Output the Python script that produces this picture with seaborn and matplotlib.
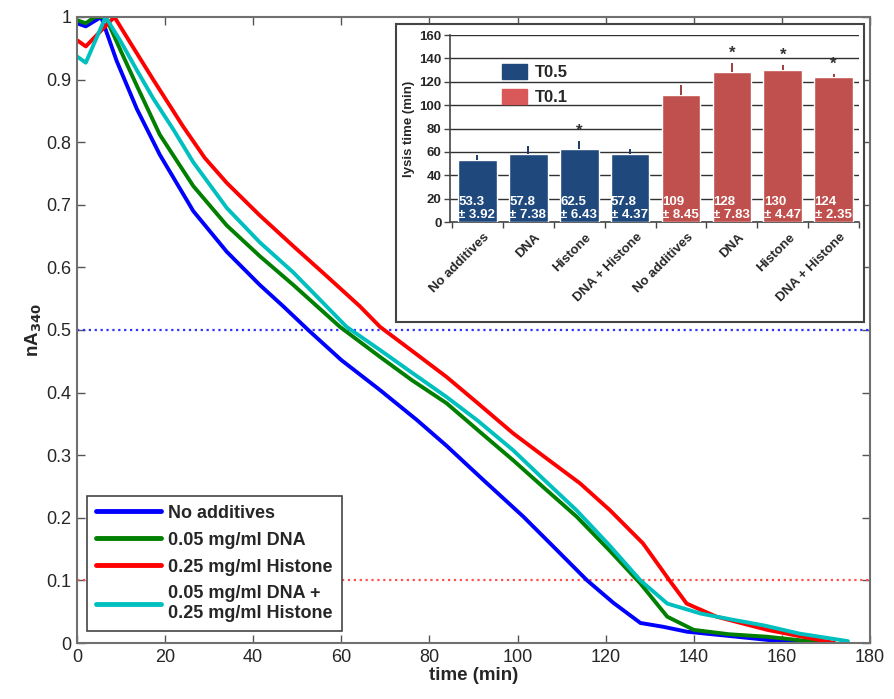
import numpy as np
import pandas as pd
import matplotlib
matplotlib.use('Agg')
import matplotlib.pyplot as plt
import matplotlib.patches as mpatches
from matplotlib.lines import Line2D
import seaborn as sns

# ── Data: turbidity curves (normalised A340 vs time) ─────────
blue_t = [0, 2, 5.5, 9, 13.6, 18.8, 26.4, 34, 41.5, 46.8, 52.5, 60, 68.8, 77.2,
          83.9, 92, 101.3, 108, 115.8, 121.8, 127.9, 133, 138.5, 147, 156.7, 165]
blue_y = [0.99, 0.985, 1.0, 0.93, 0.853, 0.78, 0.69, 0.625, 0.572, 0.538, 0.5,
          0.452, 0.404, 0.356, 0.315, 0.262, 0.202, 0.155, 0.10, 0.064, 0.032,
          0.026, 0.018, 0.012, 0.005, 0.0]

green_t = [0, 2, 4, 6.5, 10, 13.6, 18.8, 26.4, 34, 41.5, 49.1, 59.7, 68.8, 76,
           83.9, 91, 99, 106, 113.4, 121, 127.9, 134, 140, 148, 156.7, 170]
green_y = [0.995, 0.99, 1.0, 1.0, 0.945, 0.89, 0.812, 0.73, 0.667, 0.618, 0.572,
           0.505, 0.457, 0.42, 0.383, 0.34, 0.292, 0.248, 0.202, 0.147, 0.095,
           0.042, 0.021, 0.014, 0.01, 0.0]

red_t = [0, 2, 8.5, 12, 17.3, 24.1, 29, 34, 41.5, 49.1, 56.7, 64.2, 68.8, 76,
         83.9, 91, 99, 106, 114.2, 121, 128.5, 134.5, 138.4, 145.2, 156.7, 172]
red_y = [0.963, 0.953, 1.0, 0.96, 0.9, 0.825, 0.775, 0.735, 0.683, 0.634, 0.586,
         0.538, 0.505, 0.467, 0.425, 0.383, 0.335, 0.298, 0.255, 0.212, 0.159,
         0.10, 0.063, 0.042, 0.021, 0.0]

cyan_t = [0, 2, 6.5, 10, 13.6, 17.3, 21.9, 26.4, 34, 41.5, 49.1, 61.2, 68.8, 76,
          83.9, 91, 99, 106, 113.4, 121, 127.9, 134, 141.6, 149, 156, 164, 175]
cyan_y = [0.937, 0.927, 1.0, 0.96, 0.915, 0.87, 0.82, 0.768, 0.695, 0.64, 0.592,
          0.505, 0.468, 0.432, 0.393, 0.355, 0.308, 0.261, 0.212, 0.155, 0.10,
          0.063, 0.047, 0.037, 0.028, 0.015, 0.003]

curve_labels = ['No additives', '0.05 mg/ml DNA', '0.25 mg/ml Histone',
                '0.05 mg/ml DNA +\n0.25 mg/ml Histone']
curve_colors = ['#0000FF', '#007F00', '#FF0000', '#00BFBF']

# ── Data: inset lysis times ──────────────────────────────────
groups = ['T0.5'] * 4 + ['T0.1'] * 4
conditions = ['No additives', 'DNA', 'Histone', 'DNA + Histone'] * 2
lysis_mean = [53.3, 57.8, 62.5, 57.8, 109, 128, 130, 124]
lysis_sd = [3.92, 7.38, 6.43, 4.37, 8.45, 7.83, 4.47, 2.35]
significant = [False, False, True, False, False, True, True, True]
group_colors = {'T0.5': '#1F497D', 'T0.1': '#C0504D'}

# ── Style ────────────────────────────────────────────────────
sns.set_theme(style='ticks')
plt.rcParams['font.family'] = ['Liberation Sans', 'DejaVu Sans']
plt.rcParams['xtick.direction'] = 'in'
plt.rcParams['ytick.direction'] = 'in'

fig = plt.figure(figsize=(8.95, 6.99), dpi=100)
ax = fig.add_axes([0.086, 0.0801, 0.886, 0.8956])

curves = [(blue_t, blue_y), (green_t, green_y), (red_t, red_y), (cyan_t, cyan_y)]
for (t, y), lab, col in zip(curves, curve_labels, curve_colors):
    sns.lineplot(x=t, y=y, color=col, lw=2.8, label=lab, ax=ax)

# T0.5 / T0.1 reference levels
ax.axhline(0.5, color='#3030FF', ls=':', lw=1.6, zorder=1)
ax.axhline(0.1, color='#FF5050', ls=':', lw=1.6, zorder=1)

ax.set_xlim(0, 180)
ax.set_ylim(0, 1)
ax.set_xticks(np.arange(0, 181, 20))
ax.set_yticks(np.round(np.arange(0, 1.01, 0.1), 1))
ax.set_yticklabels(['0', '0.1', '0.2', '0.3', '0.4', '0.5', '0.6', '0.7',
                    '0.8', '0.9', '1'])
ax.tick_params(axis='both', labelsize=13, length=6, width=1, color='#555555',
               top=True, right=True, pad=4)
for s in ax.spines.values():
    s.set_color('#707070')
    s.set_linewidth(1.5)
ax.set_xlabel('time (min)', fontsize=13.5, fontweight='bold', labelpad=1)
ax.set_ylabel('nA$_{\\mathbf{340}}$', fontsize=13.5, fontweight='bold', labelpad=2)

handles = [Line2D([], [], color=c, lw=3.5) for c in curve_colors]
leg = ax.legend(handles, curve_labels, loc='lower left',
                bbox_to_anchor=(0.0126, 0.019), borderaxespad=0,
                prop={'size': 13, 'weight': 'bold'}, handlelength=3.6,
                labelspacing=0.55, fancybox=False, framealpha=1,
                edgecolor='#444444', borderpad=0.5, handletextpad=0.4)
leg.get_frame().set_linewidth(1.2)
leg.set_zorder(5)

# ── Inset frame ──────────────────────────────────────────────
frame = mpatches.Rectangle((0.4425, 0.5393), 0.523, 0.4263,
                           transform=fig.transFigure, facecolor='white',
                           edgecolor='#444444', lw=1.5, zorder=3)
fig.add_artist(frame)

axi = fig.add_axes([0.5028, 0.6824, 0.457, 0.2675], zorder=4)
axi.set_facecolor('none')

df = pd.DataFrame({'slot': [f'{g} {c}' for g, c in zip(groups, conditions)],
                   'group': groups, 'time': lysis_mean})
sns.barplot(data=df, x='slot', y='time', hue='group', palette=group_colors,
            dodge=False, width=0.76, saturation=1, legend=False, ax=axi, zorder=3)

err_colors = {'T0.5': '#1A3A66', 'T0.1': '#9E3F3C'}
for i, (m, sd, g) in enumerate(zip(lysis_mean, lysis_sd, groups)):
    axi.errorbar(i, m, yerr=[[0], [sd]], fmt='none', ecolor=err_colors[g],
                 elinewidth=1.4, capsize=0, zorder=4)
    axi.text(i - 0.375, 1.2, f'{m:g}\n± {sd:g}', color='white', fontsize=9.5,
             fontweight='bold', ha='left', va='bottom', linespacing=1.05, zorder=5)
    if significant[i]:
        axi.text(i, m + sd + 2, '*', ha='center', va='bottom', fontsize=12,
                 fontweight='bold', color='#333333', zorder=5)

axi.set_ylim(0, 160)
axi.set_xlim(-0.54, 7.49)
axi.set_yticks(np.arange(0, 161, 20))
axi.yaxis.grid(True, color='#303030', lw=1)
axi.set_axisbelow(True)
axi.set_xticks(np.arange(-0.5, 7.6, 1))
axi.set_xticklabels([])
axi.tick_params(axis='x', direction='out', length=4, width=1, color='#444444')
axi.tick_params(axis='y', direction='out', length=4, width=1, color='#444444',
                labelsize=9.5, pad=2)
for lab in axi.get_yticklabels():
    lab.set_fontweight('bold')
for i, c in enumerate(conditions):
    axi.text(i + 0.12, -8, c, rotation=45, ha='right', va='top',
             rotation_mode='anchor', fontsize=9.5, fontweight='bold',
             transform=axi.transData)
axi.set_xlabel('')
axi.set_ylabel('lysis time (min)', fontsize=9.5, fontweight='bold', labelpad=3)
sns.despine(ax=axi, top=True, right=True)
for s in ['left', 'bottom']:
    axi.spines[s].set_color('#444444')
    axi.spines[s].set_linewidth(1.2)

leg_handles = [mpatches.Patch(color=group_colors['T0.5'], label='T0.5'),
               mpatches.Patch(color='#D9585A', label='T0.1')]
axi.legend(handles=leg_handles, loc='upper left', bbox_to_anchor=(0.11, 0.88),
           frameon=False, prop={'size': 12, 'weight': 'bold'},
           handlelength=1.5, handleheight=1.0, labelspacing=0.5,
           handletextpad=0.5, borderaxespad=0)

fig.savefig('out.png', dpi=100)
